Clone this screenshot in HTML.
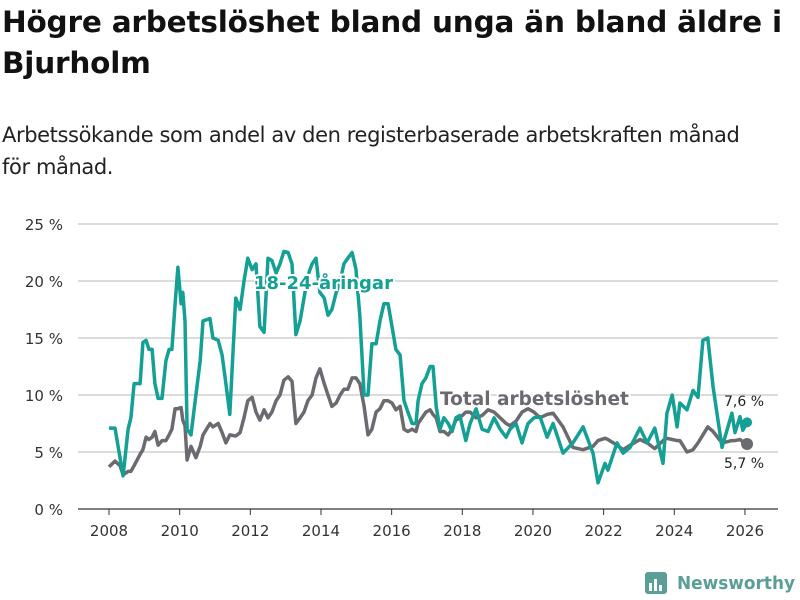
<!DOCTYPE html>
<html><head><meta charset="utf-8">
<style>
body{margin:0;background:#fff;width:800px;height:600px;overflow:hidden;font-family:"Liberation Sans","DejaVu Sans",sans-serif;}
#title{position:absolute;left:2px;top:2px;font-family:"DejaVu Sans",sans-serif;font-weight:bold;font-size:29.5px;line-height:41px;color:#111;width:798px;letter-spacing:-0.2px}
#sub{position:absolute;left:2px;top:119px;font-family:"DejaVu Sans",sans-serif;font-size:21px;line-height:32px;color:#222;width:770px;letter-spacing:-0.4px}
svg{position:absolute;left:0;top:0}
</style></head><body>
<div id="title">Högre arbetslöshet bland unga än bland äldre i Bjurholm</div>
<div id="sub">Arbetssökande som andel av den registerbaserade arbetskraften månad för månad.</div>
<svg id="chart" width="800" height="600"></svg>
<script>
const dates=[2008.00,2008.17,2008.31,2008.40,2008.54,2008.62,2008.71,2008.88,2008.96,2009.05,2009.13,2009.22,2009.30,2009.39,2009.50,2009.61,2009.70,2009.78,2009.87,2009.95,2010.04,2010.09,2010.15,2010.21,2010.32,2010.46,2010.58,2010.66,2010.86,2010.94,2011.09,2011.20,2011.31,2011.42,2011.59,2011.71,2011.82,2011.93,2012.05,2012.16,2012.27,2012.39,2012.50,2012.61,2012.73,2012.84,2012.95,2013.07,2013.18,2013.29,2013.41,2013.52,2013.63,2013.75,2013.86,2013.97,2014.09,2014.20,2014.31,2014.43,2014.54,2014.65,2014.76,2014.88,2014.99,2015.10,2015.22,2015.33,2015.44,2015.56,2015.67,2015.78,2015.90,2016.01,2016.12,2016.24,2016.35,2016.46,2016.58,2016.69,2016.75,2016.86,2016.97,2017.09,2017.17,2017.26,2017.37,2017.48,2017.60,2017.71,2017.82,2017.93,2018.10,2018.22,2018.39,2018.56,2018.73,2018.90,2019.07,2019.24,2019.35,2019.52,2019.69,2019.86,2020.03,2020.20,2020.40,2020.57,2020.85,2021.13,2021.42,2021.70,2021.84,2022.04,2022.12,2022.38,2022.55,2022.75,2023.03,2023.23,2023.45,2023.68,2023.79,2023.94,2024.08,2024.16,2024.36,2024.53,2024.67,2024.81,2024.95,2025.10,2025.35,2025.63,2025.72,2025.86,2025.94,2026.06];
const youth=[7.1,7.1,4.5,2.9,7,8,11,11,14.6,14.8,14,14,11,9.7,9.7,13,14,14,18,21.2,18,19,16.5,7,6.5,10,13,16.5,16.7,15,14.8,13.5,11,8.3,18.5,17.5,20,22,21,21.5,16,15.5,22,21.8,20.7,21.5,22.6,22.5,21.5,15.3,16.5,18.5,20.5,21.5,22,19,18.5,17,17.5,19,20,21.5,22,22.5,21,17,10,10,14.5,14.5,16.5,18,18,16,14,13.5,9.5,8.5,7.5,7.5,9.5,11,11.5,12.5,12.5,9,7,8,7.5,6.8,8,8.2,6,7.5,8.8,7,6.8,8,7,6.3,7,7.5,5.8,7.5,8,8.1,6.3,7.5,4.9,5.8,7.2,4.9,2.3,4.0,3.4,5.8,4.9,5.4,7.1,5.8,7.1,4.0,8.4,10,7.2,9.3,8.7,10.4,9.8,14.8,15,10.7,5.4,8.4,6.7,8.1,6.9,7.6];
const total=[3.7,4.2,3.8,3.0,3.3,3.3,3.8,4.8,5.2,6.3,6.1,6.3,6.8,5.6,6.0,6.0,6.5,7.0,8.8,8.8,8.9,7.8,7.3,4.3,5.5,4.5,5.5,6.5,7.5,7.2,7.5,6.7,5.8,6.5,6.4,6.7,8,9.5,9.8,8.5,7.8,8.7,8,8.5,9.5,10,11.3,11.6,11.2,7.5,8,8.5,9.5,10,11.5,12.3,11,10,9,9.3,10,10.5,10.5,11.5,11.5,11,9,6.5,7,8.5,8.8,9.5,9.5,9.3,8.7,9,7,6.8,7,6.8,7.5,8,8.5,8.7,8.3,8,6.8,6.8,6.5,7,7.8,8,8.5,8.5,8,8.2,8.7,8.5,8,7.5,7.3,7.7,8.5,8.8,8.5,8,8.3,8.4,7.2,5.4,5.2,5.5,6.0,6.2,6.1,5.6,5.2,5.6,6.1,5.8,5.3,6.0,6.2,6.1,6.0,6.0,5.0,5.2,5.8,6.5,7.2,6.8,5.8,6.0,6.0,6.1,5.9,5.7];
const yTicks=[0,5,10,15,20,25];
const yTickLabels=["0 %","5 %","10 %","15 %","20 %","25 %"];
const xTicks=[2008,2010,2012,2014,2016,2018,2020,2022,2024,2026];
const endLabels=["7,6 %","5,7 %"];

const svg=document.getElementById('chart');const NS='http://www.w3.org/2000/svg';
const X=y=>109+(y-2008)*35.33;const Y=v=>509-v*11.4;
function mk(t,a,p){const e=document.createElementNS(NS,t);for(const k in a)e.setAttribute(k,a[k]);(p||svg).appendChild(e);return e;}
yTicks.forEach((v,i)=>{
  const g=mk('line',{x1:78,x2:778,y1:Y(v),y2:Y(v),stroke:v===0?'#333':'#dcdcdc','stroke-width':v===0?1.2:2});
  
  
  const t=mk('text',{x:63,y:Y(v)+6,'text-anchor':'end','font-size':15,fill:'#333','font-family':'DejaVu Sans, sans-serif'});
  t.textContent=yTickLabels[i];
  
  
});
xTicks.forEach(v=>{
  const l=mk('line',{x1:X(v),x2:X(v),y1:509,y2:515,stroke:'#333','stroke-width':1});
  
  
  const t=mk('text',{x:X(v),y:536,'text-anchor':'middle','font-size':15,fill:'#333','font-family':'DejaVu Sans, sans-serif'});
  t.textContent=v;
  
  
});
function path(vals){return vals.map((v,i)=>(i?'L':'M')+X(dates[i]).toFixed(1)+','+Y(v).toFixed(1)).join('');}
const pt=mk('path',{d:path(total),fill:'none',stroke:'#6b6a70','stroke-width':3.5,'stroke-linejoin':'round'});


const py=mk('path',{d:path(youth),fill:'none',stroke:'#14a095','stroke-width':3.5,'stroke-linejoin':'round'});


const n=dates.length-1;
const d1=mk('circle',{cx:X(dates[n]),cy:Y(total[n]),r:6,fill:'#6b6a70'});


const d2=mk('circle',{cx:X(dates[n]),cy:Y(youth[n]),r:5,fill:'#14a095'});


function lab(txt,x,y,fill,name,size,bold){
  const t=mk('text',{x:x,y:y,'font-size':size,fill:fill,'font-weight':bold?'bold':'normal','font-family':'DejaVu Sans, sans-serif',stroke:'#fff','stroke-width':bold?4:0,'paint-order':'stroke'});
  t.textContent=txt;
  
  
}
lab('18-24-åringar',254,289,'#14a095','youth-series-label',18,true);
lab('Total arbetslöshet',440,405,'#6b6a70','total-series-label',18.5,true);
lab(endLabels[0],724,406,'#222','youth-end-label',14,false);
lab(endLabels[1],724,468,'#222','total-end-label',14,false);
// logo
const lg=mk('g',{});


mk('rect',{x:645,y:572,width:22,height:22,rx:3,fill:'#5a9e98'},lg);
mk('rect',{x:649,y:583,width:3,height:8,fill:'#fff'},lg);
mk('rect',{x:654,y:579,width:3,height:12,fill:'#fff'},lg);
mk('rect',{x:659,y:585,width:3,height:6,fill:'#fff'},lg);
const lt=mk('text',{x:677,y:589,'font-size':18,'font-weight':'bold',fill:'#5a9e98','font-family':'DejaVu Sans, sans-serif',textLength:118,lengthAdjust:'spacingAndGlyphs'},lg);
lt.textContent='Newsworthy';
</script>
</body></html>
